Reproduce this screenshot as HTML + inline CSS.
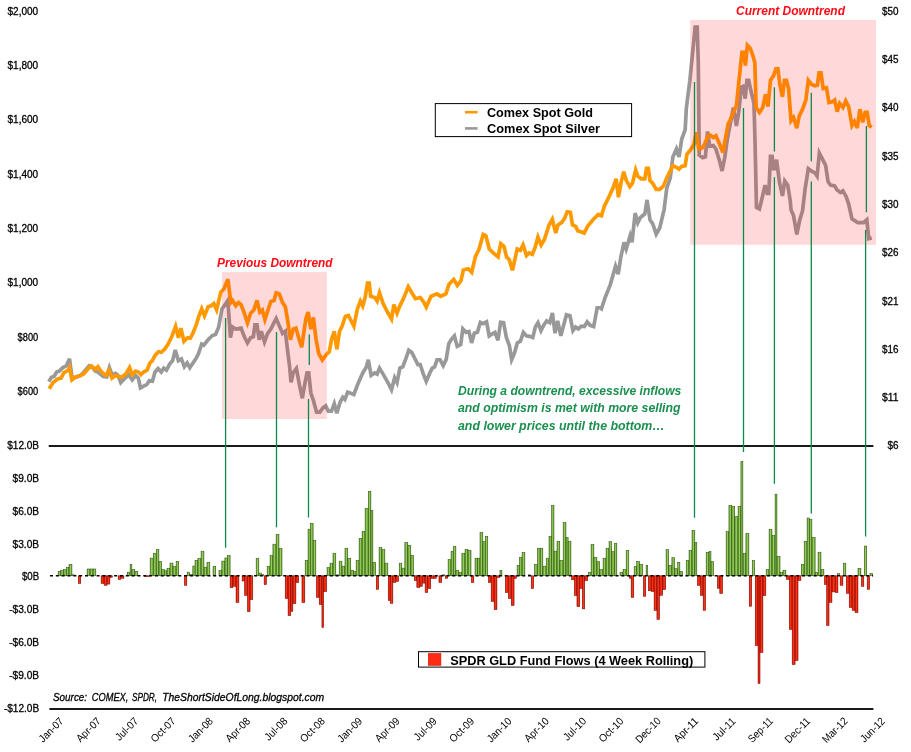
<!DOCTYPE html>
<html lang="en"><head><meta charset="utf-8"><title>Gold and Silver vs GLD Fund Flows</title>
<style>html,body{margin:0;padding:0;background:#fff}svg{display:block}</style></head>
<body><svg width="911" height="752" viewBox="0 0 911 752" font-family='"Liberation Sans", sans-serif'>
<defs>
<linearGradient id="gg" x1="0" x2="1" y1="0" y2="0"><stop offset="0" stop-color="#5b8f2c"/><stop offset="0.5" stop-color="#95cf5a"/><stop offset="1" stop-color="#5b8f2c"/></linearGradient>
<linearGradient id="rg" x1="0" x2="1" y1="0" y2="0"><stop offset="0" stop-color="#c71505"/><stop offset="0.5" stop-color="#ff3518"/><stop offset="1" stop-color="#c71505"/></linearGradient>
</defs>
<rect width="911" height="752" fill="#fff"/>
<polyline points="48.78,381.67 51.42,377.28 54.05,376.4 56.68,372.01 59.32,371.13 62.83,367.62 66.34,365.86 69.51,358.84 71.96,377.28 75.13,377.28 80.4,375.52 83.91,372.01 89.18,365.86 92.69,367.62 95.32,371.13 97.96,372.01 103.23,376.4 106.74,376.93 109.37,367.62 112.01,374.64 115.52,373.41 118.16,375.52 120.79,382.55 124.3,379.03 128.69,374.64 132.21,379.91 135.72,375.52 138.35,378.16 140.46,387.82 143.62,386.06 146.78,384.65 149.24,380.79 152.4,381.14 155.04,372.01 158.02,368.5 161.19,372.01 163.82,368.14 166.45,370.25 169.62,364.11 172.6,360.59 175.24,350.05 178.4,360.59 181.38,358.84 184.37,366.74 187.18,362.88 189.81,367.62 192.8,363.23 196.31,357.96 198.51,353.62 201.7,344.04 203.83,345.11 208.09,339.79 212.34,335.53 215.53,334.47 218.72,327.02 221.91,308.94 225.11,304.68 227.87,300.43 230.43,337.66 232.55,327.02 235.74,329.15 241.06,328.09 244.26,336.6 247.45,342.98 250.64,337.66 253.4,336.6 254.89,324.89 257.02,324.89 259.15,339.79 261.28,331.28 264.47,341.91 267.66,333.4 270.85,329.15 273.4,323.83 276.17,318.51 279.36,325.96 282.55,333.4 285.32,331.28 287.45,349.36 289.57,366.38 291.06,382.34 293.19,372.77 296.38,368.51 299.57,385.53 302.34,398.3 304.89,383.4 307.02,372.77 308.72,372.77 310.85,392.98 313.4,400.43 316.6,412.13 319.79,412.13 322.98,407.87 325.74,405.74 328.3,411.06 331.49,411.06 334.26,403.62 336.81,413.19 340.0,402.55 342.77,397.23 344.89,399.36 347.66,392.1 353.89,394.49 357.96,383.71 362.75,372.93 366.35,366.95 368.26,359.76 371.14,375.33 374.73,372.93 377.13,374.13 379.52,368.14 383.11,374.13 387.9,382.51 391.5,389.7 394.61,377.72 397.01,382.51 399.88,368.14 402.75,366.95 405.87,358.56 408.74,350.18 411.86,352.57 415.45,359.76 417.84,364.55 420.24,364.55 423.35,374.13 426.23,381.32 429.82,372.93 432.22,368.14 434.61,366.95 437.01,359.76 440.12,359.76 443.16,365.72 446.15,359.57 448.78,343.77 451.42,339.37 454.4,335.86 457.21,346.4 460.72,344.64 462.83,328.84 465.99,332.35 468.98,331.47 471.61,342.89 474.25,333.23 477.41,332.35 480.4,322.34 483.03,323.57 486.54,321.81 489.18,335.86 491.81,334.11 494.97,332.35 497.96,340.25 500.59,322.34 503.58,322.69 506.39,337.62 509.37,345.52 511.66,359.57 514.64,352.55 517.28,342.89 520.44,341.13 523.42,332.35 526.41,335.86 529.57,336.39 532.73,337.62 535.37,327.08 538.0,322.69 540.99,330.59 543.62,325.32 546.61,320.93 549.77,322.69 552.4,313.03 555.04,333.23 557.67,320.93 560.83,335.86 563.82,324.45 566.45,314.79 569.97,315.66 572.95,330.59 575.59,327.08 578.4,328.84 581.38,326.2 584.37,326.55 587.18,321.81 590.16,325.32 593.68,326.55 597.19,307.76 600.0,307.76 601.46,308.77 604.92,298.14 610.23,284.85 615.55,266.25 618.21,274.22 620.86,256.94 624.05,242.33 626.18,248.97 630.17,235.68 632.03,242.33 635.13,213.08 637.76,222.74 640.4,217.48 644.79,213.96 647.07,199.91 650.05,220.11 652.69,223.62 656.2,234.16 659.71,228.01 664.11,209.57 666.74,188.5 670.25,177.96 672.89,156.88 676.4,148.98 679.03,156.88 681.67,139.32 685.18,129.66 686.34,108.35 689.86,80.25 693.37,45.13 695.13,27.04 697.23,27.04 698.29,62.69 699.23,155.13 702.74,157.76 705.38,156.88 707.49,131.42 709.77,146.34 713.28,145.47 715.92,148.98 719.43,160.4 722.06,170.93 724.7,157.76 727.33,139.32 729.97,125.27 733.41,107.48 736.4,125.92 739.03,110.11 741.14,87.28 742.9,86.4 745.18,98.69 746.94,80.25 748.69,80.25 751.33,92.55 753.96,103.08 755.15,146.47 756.47,207.39 759.43,209.03 762.23,197.51 765.03,185.16 767.17,193.39 768.81,193.39 770.46,156.34 772.11,156.34 773.75,170.34 776.55,159.64 779.52,182.69 782.48,195.86 784.79,181.04 787.75,185.16 790.22,200.8 791.04,209.86 793.51,215.62 796.81,234.39 799.6,220.56 802.57,210.68 805.04,189.28 808.33,168.69 811.62,171.16 814.92,172.81 817.06,176.1 819.36,153.05 822.33,158.81 825.62,165.4 828.09,181.87 830.56,185.16 834.68,185.98 837.15,190.1 840.44,192.57 842.91,190.92 846.2,196.68 848.67,204.09 851.96,218.91 857.73,222.54 863.49,222.54 866.78,219.74 868.76,238.67 871.72,237.85" fill="none" stroke="#999999" stroke-width="3.7" stroke-linejoin="miter" stroke-miterlimit="3.6" stroke-linecap="butt"/>
<polyline points="49.13,388.69 53.17,382.55 57.56,379.03 61.08,378.16 63.71,372.89 68.1,370.25 69.51,367.62 71.96,379.91 75.13,377.28 80.4,375.52 83.91,373.77 88.3,368.5 91.46,365.86 95.32,369.37 97.96,366.74 101.47,372.01 105.86,375.52 109.02,370.25 112.01,378.16 115.52,375.52 118.16,376.4 121.67,377.28 126.06,373.77 129.57,367.62 132.21,374.64 135.72,371.13 138.35,372.01 140.99,374.64 143.62,372.01 147.14,370.25 149.77,363.23 152.4,360.59 155.04,355.32 158.55,351.81 161.19,352.34 164.7,349.18 168.21,343.91 171.72,336.88 175.59,326.34 178.4,337.76 180.86,328.1 184.02,341.27 187.53,337.76 190.16,338.29 192.8,333.37 196.31,324.59 198.51,317.45 201.7,308.94 204.47,315.74 208.09,306.81 211.28,305.74 213.83,303.62 216.6,310.0 220.85,291.91 224.04,288.72 227.87,279.15 230.85,302.55 232.55,300.43 235.74,305.74 238.51,302.55 241.06,304.68 244.26,313.19 247.45,322.77 250.64,313.19 253.83,310.0 257.02,300.43 259.79,312.13 262.34,310.0 264.89,319.57 267.66,311.06 270.85,301.49 274.04,300.43 276.17,292.98 279.36,294.04 282.55,302.55 285.32,306.81 287.87,321.7 290.43,339.79 293.19,329.15 295.96,328.09 298.94,338.72 301.7,347.23 303.83,332.34 305.96,318.51 308.09,312.13 310.85,329.15 313.4,317.45 315.96,338.72 318.72,353.62 322.34,360.0 326.17,354.68 329.36,351.49 331.49,339.79 334.26,331.28 336.81,349.36 339.57,331.28 342.13,325.96 345.32,316.38 348.38,315.45 353.89,326.23 357.25,309.46 360.36,301.08 362.75,305.87 365.15,297.49 367.54,283.11 369.22,283.11 370.66,296.29 374.73,297.49 377.13,301.08 379.52,292.69 383.11,303.47 386.71,310.66 391.5,319.04 393.89,304.67 397.01,313.05 399.88,305.87 403.47,298.68 408.26,286.71 411.86,292.69 415.45,298.68 420.24,297.49 423.83,302.28 426.23,307.07 431.02,296.29 437.01,293.89 440.6,296.29 445.87,293.89 448.98,284.31 453.77,279.52 457.37,285.51 460.96,280.72 463.35,269.94 468.14,268.74 471.74,272.34 475.33,256.77 478.92,249.58 483.19,234.35 485.85,235.68 489.3,248.97 493.29,252.96 498.07,256.94 500.73,243.65 503.92,246.31 506.58,256.94 509.24,259.6 512.43,270.23 517.21,248.97 520.4,250.3 523.06,244.98 526.51,255.61 529.17,252.96 532.36,254.29 535.02,247.64 537.94,237.01 541.13,244.98 544.32,239.67 549.1,225.05 552.29,219.2 555.75,233.02 557.87,225.05 561.86,222.39 564.52,218.41 567.18,211.76 570.37,212.29 572.49,225.05 575.68,226.38 577.81,230.9 581.0,231.69 584.19,233.02 587.64,226.38 592.96,219.73 598.27,214.42 601.46,215.75 604.39,206.06 608.78,197.28 613.17,187.62 616.16,178.84 618.44,197.28 621.08,182.35 623.71,171.81 626.34,180.59 629.86,186.74 632.49,183.23 635.65,170.05 637.76,176.2 641.27,178.84 644.79,178.84 646.54,168.3 648.3,168.3 650.05,180.59 652.69,183.23 656.2,189.37 659.71,189.37 663.58,185.86 666.74,177.96 670.25,170.93 672.89,165.66 676.4,167.42 679.03,169.18 681.67,166.54 685.18,165.66 686.94,154.25 690.45,149.86 693.96,144.59 696.25,132.29 698.7,148.98 701.87,148.1 704.5,144.59 708.01,135.81 709.77,134.93 713.28,137.56 715.92,135.81 719.43,143.71 722.94,152.49 725.58,137.56 728.21,123.51 730.25,119.77 733.77,111.87 736.4,105.72 739.03,80.25 741.98,52.35 743.62,52.35 745.43,65.52 747.41,45.27 750.21,48.23 753.17,56.47 754.82,63.05 756.14,107.51 759.43,112.45 762.72,107.51 765.52,94.34 767.99,106.68 770.46,80.34 773.75,75.4 775.89,68.81 777.87,68.81 779.85,84.46 782.48,96.81 784.46,80.34 786.43,80.34 788.57,88.57 791.04,120.68 793.51,117.39 796.81,128.09 799.28,115.74 802.57,109.15 805.86,100.1 808.33,80.34 811.62,84.46 814.92,85.77 817.39,85.28 819.03,72.93 821.01,72.93 823.15,88.57 826.44,87.75 828.91,102.57 832.21,101.75 834.68,100.1 837.15,111.62 839.62,103.39 842.91,107.51 845.71,100.92 848.67,106.68 851.96,125.62 854.43,121.5 857.23,128.09 859.87,109.15 862.67,122.33 865.14,112.45 867.11,112.45 869.25,125.62 871.72,127.27" fill="none" stroke="#ff9900" stroke-width="3.7" stroke-linejoin="miter" stroke-miterlimit="3.6" stroke-linecap="butt"/>
<rect x="222" y="272.1" width="104.8" height="146.9" fill="rgba(255,0,0,0.15)"/>
<rect x="690.2" y="20" width="185.8" height="224.8" fill="rgba(255,0,0,0.15)"/>
<rect x="58.09" y="571.27" width="2.63" height="4.53" fill="url(#gg)" stroke="#2f5210" stroke-width="0.5"/>
<rect x="60.72" y="570.40" width="2.99" height="5.40" fill="url(#gg)" stroke="#2f5210" stroke-width="0.5"/>
<rect x="63.71" y="569.52" width="2.63" height="6.28" fill="url(#gg)" stroke="#2f5210" stroke-width="0.5"/>
<rect x="66.34" y="567.23" width="2.64" height="8.57" fill="url(#gg)" stroke="#2f5210" stroke-width="0.5"/>
<rect x="68.98" y="564.25" width="2.98" height="11.55" fill="url(#gg)" stroke="#2f5210" stroke-width="0.5"/>
<rect x="71.96" y="574.79" width="2.29" height="1.01" fill="url(#gg)" stroke="#2f5210" stroke-width="0.5"/>
<rect x="78.29" y="575.80" width="2.46" height="7.77" fill="url(#rg)" stroke="#7a0a00" stroke-width="0.5"/>
<rect x="87.07" y="568.99" width="2.98" height="6.81" fill="url(#gg)" stroke="#2f5210" stroke-width="0.5"/>
<rect x="90.05" y="568.99" width="2.99" height="6.81" fill="url(#gg)" stroke="#2f5210" stroke-width="0.5"/>
<rect x="93.04" y="568.99" width="2.81" height="6.81" fill="url(#gg)" stroke="#2f5210" stroke-width="0.5"/>
<rect x="101.12" y="575.80" width="2.99" height="7.77" fill="url(#rg)" stroke="#7a0a00" stroke-width="0.5"/>
<rect x="104.11" y="575.80" width="2.98" height="9.52" fill="url(#rg)" stroke="#7a0a00" stroke-width="0.5"/>
<rect x="107.09" y="575.80" width="2.81" height="8.29" fill="url(#rg)" stroke="#7a0a00" stroke-width="0.5"/>
<rect x="109.90" y="575.80" width="2.46" height="1.62" fill="url(#rg)" stroke="#7a0a00" stroke-width="0.5"/>
<rect x="118.16" y="575.80" width="2.63" height="3.73" fill="url(#rg)" stroke="#7a0a00" stroke-width="0.5"/>
<rect x="121.14" y="575.80" width="2.81" height="2.50" fill="url(#rg)" stroke="#7a0a00" stroke-width="0.5"/>
<rect x="127.29" y="572.15" width="2.81" height="3.65" fill="url(#gg)" stroke="#2f5210" stroke-width="0.5"/>
<rect x="130.10" y="564.25" width="1.76" height="11.55" fill="url(#gg)" stroke="#2f5210" stroke-width="0.5"/>
<rect x="131.86" y="569.52" width="2.98" height="6.28" fill="url(#gg)" stroke="#2f5210" stroke-width="0.5"/>
<rect x="134.84" y="571.27" width="2.99" height="4.53" fill="url(#gg)" stroke="#2f5210" stroke-width="0.5"/>
<rect x="144.50" y="575.80" width="2.64" height="0.92" fill="url(#rg)" stroke="#7a0a00" stroke-width="0.5"/>
<rect x="147.14" y="575.80" width="2.63" height="0.74" fill="url(#rg)" stroke="#7a0a00" stroke-width="0.5"/>
<rect x="150.12" y="558.10" width="3.16" height="17.70" fill="url(#gg)" stroke="#2f5210" stroke-width="0.5"/>
<rect x="153.28" y="553.18" width="2.99" height="22.62" fill="url(#gg)" stroke="#2f5210" stroke-width="0.5"/>
<rect x="156.27" y="549.32" width="2.63" height="26.48" fill="url(#gg)" stroke="#2f5210" stroke-width="0.5"/>
<rect x="158.90" y="561.26" width="2.81" height="14.54" fill="url(#gg)" stroke="#2f5210" stroke-width="0.5"/>
<rect x="161.71" y="569.52" width="2.64" height="6.28" fill="url(#gg)" stroke="#2f5210" stroke-width="0.5"/>
<rect x="164.35" y="570.75" width="2.63" height="5.05" fill="url(#gg)" stroke="#2f5210" stroke-width="0.5"/>
<rect x="166.98" y="568.29" width="2.99" height="7.51" fill="url(#gg)" stroke="#2f5210" stroke-width="0.5"/>
<rect x="169.97" y="563.02" width="2.98" height="12.78" fill="url(#gg)" stroke="#2f5210" stroke-width="0.5"/>
<rect x="172.95" y="566.36" width="3.16" height="9.44" fill="url(#gg)" stroke="#2f5210" stroke-width="0.5"/>
<rect x="176.11" y="561.26" width="2.64" height="14.54" fill="url(#gg)" stroke="#2f5210" stroke-width="0.5"/>
<rect x="184.37" y="575.80" width="2.46" height="9.52" fill="url(#rg)" stroke="#7a0a00" stroke-width="0.5"/>
<rect x="187.18" y="572.15" width="2.46" height="3.65" fill="url(#gg)" stroke="#2f5210" stroke-width="0.5"/>
<rect x="189.64" y="574.26" width="3.16" height="1.54" fill="url(#gg)" stroke="#2f5210" stroke-width="0.5"/>
<rect x="192.80" y="566.00" width="2.63" height="9.80" fill="url(#gg)" stroke="#2f5210" stroke-width="0.5"/>
<rect x="195.00" y="560.29" width="2.87" height="15.51" fill="url(#gg)" stroke="#2f5210" stroke-width="0.5"/>
<rect x="197.87" y="558.21" width="3.20" height="17.59" fill="url(#gg)" stroke="#2f5210" stroke-width="0.5"/>
<rect x="201.07" y="551.19" width="2.87" height="24.61" fill="url(#gg)" stroke="#2f5210" stroke-width="0.5"/>
<rect x="203.94" y="567.15" width="3.03" height="8.65" fill="url(#gg)" stroke="#2f5210" stroke-width="0.5"/>
<rect x="206.97" y="562.20" width="2.88" height="13.60" fill="url(#gg)" stroke="#2f5210" stroke-width="0.5"/>
<rect x="213.04" y="566.19" width="2.71" height="9.61" fill="url(#gg)" stroke="#2f5210" stroke-width="0.5"/>
<rect x="218.95" y="570.34" width="2.87" height="5.46" fill="url(#gg)" stroke="#2f5210" stroke-width="0.5"/>
<rect x="221.82" y="561.08" width="3.03" height="14.72" fill="url(#gg)" stroke="#2f5210" stroke-width="0.5"/>
<rect x="224.85" y="557.89" width="2.56" height="17.91" fill="url(#gg)" stroke="#2f5210" stroke-width="0.5"/>
<rect x="227.41" y="555.34" width="2.71" height="20.46" fill="url(#gg)" stroke="#2f5210" stroke-width="0.5"/>
<rect x="230.12" y="575.80" width="2.87" height="11.94" fill="url(#rg)" stroke="#7a0a00" stroke-width="0.5"/>
<rect x="232.99" y="575.80" width="3.04" height="10.51" fill="url(#rg)" stroke="#7a0a00" stroke-width="0.5"/>
<rect x="236.03" y="575.80" width="2.87" height="26.79" fill="url(#rg)" stroke="#7a0a00" stroke-width="0.5"/>
<rect x="242.09" y="575.80" width="2.40" height="5.24" fill="url(#rg)" stroke="#7a0a00" stroke-width="0.5"/>
<rect x="244.49" y="575.80" width="2.87" height="19.60" fill="url(#rg)" stroke="#7a0a00" stroke-width="0.5"/>
<rect x="247.36" y="575.80" width="2.71" height="35.89" fill="url(#rg)" stroke="#7a0a00" stroke-width="0.5"/>
<rect x="250.07" y="575.80" width="2.72" height="23.91" fill="url(#rg)" stroke="#7a0a00" stroke-width="0.5"/>
<rect x="256.14" y="558.21" width="2.71" height="17.59" fill="url(#gg)" stroke="#2f5210" stroke-width="0.5"/>
<rect x="258.85" y="573.06" width="2.40" height="2.74" fill="url(#gg)" stroke="#2f5210" stroke-width="0.5"/>
<rect x="261.25" y="574.33" width="2.39" height="1.47" fill="url(#gg)" stroke="#2f5210" stroke-width="0.5"/>
<rect x="264.12" y="575.80" width="2.40" height="8.91" fill="url(#rg)" stroke="#7a0a00" stroke-width="0.5"/>
<rect x="267.16" y="566.19" width="2.87" height="9.61" fill="url(#gg)" stroke="#2f5210" stroke-width="0.5"/>
<rect x="270.03" y="555.34" width="2.87" height="20.46" fill="url(#gg)" stroke="#2f5210" stroke-width="0.5"/>
<rect x="272.90" y="544.16" width="3.19" height="31.64" fill="url(#gg)" stroke="#2f5210" stroke-width="0.5"/>
<rect x="276.09" y="534.26" width="2.88" height="41.54" fill="url(#gg)" stroke="#2f5210" stroke-width="0.5"/>
<rect x="278.97" y="548.31" width="3.03" height="27.49" fill="url(#gg)" stroke="#2f5210" stroke-width="0.5"/>
<rect x="285.19" y="575.80" width="2.88" height="22.80" fill="url(#rg)" stroke="#7a0a00" stroke-width="0.5"/>
<rect x="288.07" y="575.80" width="2.71" height="39.88" fill="url(#rg)" stroke="#7a0a00" stroke-width="0.5"/>
<rect x="290.78" y="575.80" width="2.08" height="35.57" fill="url(#rg)" stroke="#7a0a00" stroke-width="0.5"/>
<rect x="292.86" y="575.80" width="3.03" height="27.91" fill="url(#rg)" stroke="#7a0a00" stroke-width="0.5"/>
<rect x="295.89" y="575.80" width="2.87" height="6.83" fill="url(#rg)" stroke="#7a0a00" stroke-width="0.5"/>
<rect x="301.96" y="575.80" width="2.87" height="26.79" fill="url(#rg)" stroke="#7a0a00" stroke-width="0.5"/>
<rect x="305.15" y="560.29" width="2.87" height="15.51" fill="url(#gg)" stroke="#2f5210" stroke-width="0.5"/>
<rect x="308.02" y="529.16" width="2.24" height="46.64" fill="url(#gg)" stroke="#2f5210" stroke-width="0.5"/>
<rect x="310.26" y="523.25" width="2.87" height="52.55" fill="url(#gg)" stroke="#2f5210" stroke-width="0.5"/>
<rect x="313.13" y="540.33" width="2.71" height="35.47" fill="url(#gg)" stroke="#2f5210" stroke-width="0.5"/>
<rect x="316.32" y="575.80" width="2.88" height="21.68" fill="url(#rg)" stroke="#7a0a00" stroke-width="0.5"/>
<rect x="319.20" y="575.80" width="2.71" height="28.86" fill="url(#rg)" stroke="#7a0a00" stroke-width="0.5"/>
<rect x="321.91" y="575.80" width="1.76" height="51.85" fill="url(#rg)" stroke="#7a0a00" stroke-width="0.5"/>
<rect x="323.67" y="575.80" width="3.03" height="15.93" fill="url(#rg)" stroke="#7a0a00" stroke-width="0.5"/>
<rect x="327.02" y="567.47" width="2.87" height="8.33" fill="url(#gg)" stroke="#2f5210" stroke-width="0.5"/>
<rect x="330.00" y="563.16" width="2.99" height="12.64" fill="url(#gg)" stroke="#2f5210" stroke-width="0.5"/>
<rect x="332.99" y="553.18" width="2.83" height="22.62" fill="url(#gg)" stroke="#2f5210" stroke-width="0.5"/>
<rect x="335.82" y="574.80" width="2.49" height="1.00" fill="url(#gg)" stroke="#2f5210" stroke-width="0.5"/>
<rect x="339.15" y="561.16" width="2.82" height="14.64" fill="url(#gg)" stroke="#2f5210" stroke-width="0.5"/>
<rect x="341.97" y="566.15" width="3.00" height="9.65" fill="url(#gg)" stroke="#2f5210" stroke-width="0.5"/>
<rect x="344.97" y="548.19" width="2.82" height="27.61" fill="url(#gg)" stroke="#2f5210" stroke-width="0.5"/>
<rect x="347.79" y="558.17" width="3.00" height="17.63" fill="url(#gg)" stroke="#2f5210" stroke-width="0.5"/>
<rect x="350.79" y="570.14" width="2.82" height="5.66" fill="url(#gg)" stroke="#2f5210" stroke-width="0.5"/>
<rect x="353.61" y="571.47" width="2.50" height="4.33" fill="url(#gg)" stroke="#2f5210" stroke-width="0.5"/>
<rect x="356.11" y="560.33" width="2.99" height="15.47" fill="url(#gg)" stroke="#2f5210" stroke-width="0.5"/>
<rect x="359.10" y="538.22" width="3.00" height="37.58" fill="url(#gg)" stroke="#2f5210" stroke-width="0.5"/>
<rect x="362.10" y="531.23" width="2.99" height="44.57" fill="url(#gg)" stroke="#2f5210" stroke-width="0.5"/>
<rect x="365.09" y="508.28" width="3.16" height="67.52" fill="url(#gg)" stroke="#2f5210" stroke-width="0.5"/>
<rect x="368.25" y="491.32" width="2.66" height="84.48" fill="url(#gg)" stroke="#2f5210" stroke-width="0.5"/>
<rect x="370.91" y="510.28" width="1.99" height="65.52" fill="url(#gg)" stroke="#2f5210" stroke-width="0.5"/>
<rect x="372.90" y="562.33" width="2.83" height="13.47" fill="url(#gg)" stroke="#2f5210" stroke-width="0.5"/>
<rect x="376.23" y="575.80" width="2.50" height="13.63" fill="url(#rg)" stroke="#7a0a00" stroke-width="0.5"/>
<rect x="379.06" y="547.36" width="2.82" height="28.44" fill="url(#gg)" stroke="#2f5210" stroke-width="0.5"/>
<rect x="381.88" y="549.52" width="3.00" height="26.28" fill="url(#gg)" stroke="#2f5210" stroke-width="0.5"/>
<rect x="384.88" y="563.16" width="2.99" height="12.64" fill="url(#gg)" stroke="#2f5210" stroke-width="0.5"/>
<rect x="388.20" y="575.80" width="2.00" height="24.78" fill="url(#rg)" stroke="#7a0a00" stroke-width="0.5"/>
<rect x="390.20" y="575.80" width="2.66" height="27.60" fill="url(#rg)" stroke="#7a0a00" stroke-width="0.5"/>
<rect x="392.86" y="575.80" width="2.99" height="6.82" fill="url(#rg)" stroke="#7a0a00" stroke-width="0.5"/>
<rect x="395.85" y="575.80" width="2.83" height="5.65" fill="url(#rg)" stroke="#7a0a00" stroke-width="0.5"/>
<rect x="399.18" y="563.16" width="2.66" height="12.64" fill="url(#gg)" stroke="#2f5210" stroke-width="0.5"/>
<rect x="401.84" y="568.15" width="2.99" height="7.65" fill="url(#gg)" stroke="#2f5210" stroke-width="0.5"/>
<rect x="404.83" y="542.37" width="3.00" height="33.43" fill="url(#gg)" stroke="#2f5210" stroke-width="0.5"/>
<rect x="407.83" y="545.20" width="2.99" height="30.60" fill="url(#gg)" stroke="#2f5210" stroke-width="0.5"/>
<rect x="410.82" y="555.18" width="2.83" height="20.62" fill="url(#gg)" stroke="#2f5210" stroke-width="0.5"/>
<rect x="414.31" y="575.80" width="2.50" height="4.82" fill="url(#rg)" stroke="#7a0a00" stroke-width="0.5"/>
<rect x="416.81" y="575.80" width="2.99" height="11.81" fill="url(#rg)" stroke="#7a0a00" stroke-width="0.5"/>
<rect x="419.80" y="575.80" width="2.49" height="10.64" fill="url(#rg)" stroke="#7a0a00" stroke-width="0.5"/>
<rect x="422.29" y="575.80" width="2.83" height="7.32" fill="url(#rg)" stroke="#7a0a00" stroke-width="0.5"/>
<rect x="425.12" y="575.80" width="2.66" height="16.79" fill="url(#rg)" stroke="#7a0a00" stroke-width="0.5"/>
<rect x="427.78" y="575.80" width="3.00" height="12.80" fill="url(#rg)" stroke="#7a0a00" stroke-width="0.5"/>
<rect x="430.78" y="575.80" width="2.82" height="2.66" fill="url(#rg)" stroke="#7a0a00" stroke-width="0.5"/>
<rect x="433.60" y="575.80" width="2.83" height="2.66" fill="url(#rg)" stroke="#7a0a00" stroke-width="0.5"/>
<rect x="438.92" y="575.80" width="2.83" height="6.82" fill="url(#rg)" stroke="#7a0a00" stroke-width="0.5"/>
<rect x="442.25" y="574.80" width="2.50" height="1.00" fill="url(#gg)" stroke="#2f5210" stroke-width="0.5"/>
<rect x="445.24" y="575.80" width="2.50" height="2.66" fill="url(#rg)" stroke="#7a0a00" stroke-width="0.5"/>
<rect x="448.07" y="559.33" width="2.99" height="16.47" fill="url(#gg)" stroke="#2f5210" stroke-width="0.5"/>
<rect x="451.06" y="551.19" width="2.33" height="24.61" fill="url(#gg)" stroke="#2f5210" stroke-width="0.5"/>
<rect x="453.39" y="546.20" width="2.50" height="29.60" fill="url(#gg)" stroke="#2f5210" stroke-width="0.5"/>
<rect x="455.89" y="570.31" width="2.99" height="5.49" fill="url(#gg)" stroke="#2f5210" stroke-width="0.5"/>
<rect x="458.88" y="572.31" width="2.99" height="3.49" fill="url(#gg)" stroke="#2f5210" stroke-width="0.5"/>
<rect x="461.87" y="553.18" width="3.16" height="22.62" fill="url(#gg)" stroke="#2f5210" stroke-width="0.5"/>
<rect x="465.03" y="549.36" width="3.00" height="26.44" fill="url(#gg)" stroke="#2f5210" stroke-width="0.5"/>
<rect x="468.03" y="550.35" width="2.99" height="25.45" fill="url(#gg)" stroke="#2f5210" stroke-width="0.5"/>
<rect x="471.35" y="575.80" width="2.50" height="6.82" fill="url(#rg)" stroke="#7a0a00" stroke-width="0.5"/>
<rect x="475.00" y="558.17" width="2.49" height="17.63" fill="url(#gg)" stroke="#2f5210" stroke-width="0.5"/>
<rect x="477.49" y="558.17" width="2.50" height="17.63" fill="url(#gg)" stroke="#2f5210" stroke-width="0.5"/>
<rect x="479.99" y="532.39" width="2.83" height="43.41" fill="url(#gg)" stroke="#2f5210" stroke-width="0.5"/>
<rect x="482.82" y="541.54" width="2.49" height="34.26" fill="url(#gg)" stroke="#2f5210" stroke-width="0.5"/>
<rect x="485.31" y="536.22" width="2.49" height="39.58" fill="url(#gg)" stroke="#2f5210" stroke-width="0.5"/>
<rect x="488.30" y="575.80" width="2.83" height="6.82" fill="url(#rg)" stroke="#7a0a00" stroke-width="0.5"/>
<rect x="491.13" y="575.80" width="2.99" height="25.61" fill="url(#rg)" stroke="#7a0a00" stroke-width="0.5"/>
<rect x="494.12" y="575.80" width="2.83" height="33.92" fill="url(#rg)" stroke="#7a0a00" stroke-width="0.5"/>
<rect x="496.95" y="575.80" width="2.99" height="1.66" fill="url(#rg)" stroke="#7a0a00" stroke-width="0.5"/>
<rect x="499.94" y="570.31" width="2.00" height="5.49" fill="url(#gg)" stroke="#2f5210" stroke-width="0.5"/>
<rect x="505.27" y="575.80" width="2.99" height="16.79" fill="url(#rg)" stroke="#7a0a00" stroke-width="0.5"/>
<rect x="508.26" y="575.80" width="2.99" height="22.78" fill="url(#rg)" stroke="#7a0a00" stroke-width="0.5"/>
<rect x="511.25" y="575.80" width="2.83" height="29.77" fill="url(#rg)" stroke="#7a0a00" stroke-width="0.5"/>
<rect x="514.08" y="575.80" width="2.49" height="2.66" fill="url(#rg)" stroke="#7a0a00" stroke-width="0.5"/>
<rect x="517.07" y="565.32" width="2.33" height="10.48" fill="url(#gg)" stroke="#2f5210" stroke-width="0.5"/>
<rect x="519.40" y="557.34" width="2.66" height="18.46" fill="url(#gg)" stroke="#2f5210" stroke-width="0.5"/>
<rect x="522.06" y="552.35" width="2.83" height="23.45" fill="url(#gg)" stroke="#2f5210" stroke-width="0.5"/>
<rect x="528.22" y="574.80" width="2.49" height="1.00" fill="url(#gg)" stroke="#2f5210" stroke-width="0.5"/>
<rect x="531.21" y="575.80" width="2.49" height="12.80" fill="url(#rg)" stroke="#7a0a00" stroke-width="0.5"/>
<rect x="534.37" y="564.32" width="2.99" height="11.48" fill="url(#gg)" stroke="#2f5210" stroke-width="0.5"/>
<rect x="537.36" y="548.19" width="2.83" height="27.61" fill="url(#gg)" stroke="#2f5210" stroke-width="0.5"/>
<rect x="540.19" y="548.19" width="2.66" height="27.61" fill="url(#gg)" stroke="#2f5210" stroke-width="0.5"/>
<rect x="542.85" y="566.15" width="3.33" height="9.65" fill="url(#gg)" stroke="#2f5210" stroke-width="0.5"/>
<rect x="546.18" y="558.17" width="2.82" height="17.63" fill="url(#gg)" stroke="#2f5210" stroke-width="0.5"/>
<rect x="549.00" y="536.22" width="2.50" height="39.58" fill="url(#gg)" stroke="#2f5210" stroke-width="0.5"/>
<rect x="551.50" y="505.29" width="2.49" height="70.51" fill="url(#gg)" stroke="#2f5210" stroke-width="0.5"/>
<rect x="553.99" y="551.19" width="2.99" height="24.61" fill="url(#gg)" stroke="#2f5210" stroke-width="0.5"/>
<rect x="556.98" y="541.21" width="2.83" height="34.59" fill="url(#gg)" stroke="#2f5210" stroke-width="0.5"/>
<rect x="559.81" y="560.33" width="3.33" height="15.47" fill="url(#gg)" stroke="#2f5210" stroke-width="0.5"/>
<rect x="563.14" y="522.42" width="2.82" height="53.38" fill="url(#gg)" stroke="#2f5210" stroke-width="0.5"/>
<rect x="565.96" y="537.38" width="2.17" height="38.42" fill="url(#gg)" stroke="#2f5210" stroke-width="0.5"/>
<rect x="568.13" y="541.21" width="2.82" height="34.59" fill="url(#gg)" stroke="#2f5210" stroke-width="0.5"/>
<rect x="571.45" y="575.80" width="2.83" height="3.99" fill="url(#rg)" stroke="#7a0a00" stroke-width="0.5"/>
<rect x="574.28" y="575.80" width="2.66" height="19.79" fill="url(#rg)" stroke="#7a0a00" stroke-width="0.5"/>
<rect x="576.94" y="575.80" width="2.83" height="30.93" fill="url(#rg)" stroke="#7a0a00" stroke-width="0.5"/>
<rect x="579.77" y="575.80" width="2.49" height="12.80" fill="url(#rg)" stroke="#7a0a00" stroke-width="0.5"/>
<rect x="582.26" y="575.80" width="2.50" height="33.09" fill="url(#rg)" stroke="#7a0a00" stroke-width="0.5"/>
<rect x="584.76" y="575.80" width="2.99" height="4.82" fill="url(#rg)" stroke="#7a0a00" stroke-width="0.5"/>
<rect x="588.41" y="572.31" width="2.67" height="3.49" fill="url(#gg)" stroke="#2f5210" stroke-width="0.5"/>
<rect x="591.08" y="544.37" width="2.82" height="31.43" fill="url(#gg)" stroke="#2f5210" stroke-width="0.5"/>
<rect x="593.90" y="557.34" width="3.00" height="18.46" fill="url(#gg)" stroke="#2f5210" stroke-width="0.5"/>
<rect x="596.90" y="561.50" width="2.82" height="14.30" fill="url(#gg)" stroke="#2f5210" stroke-width="0.5"/>
<rect x="599.72" y="569.48" width="3.33" height="6.32" fill="url(#gg)" stroke="#2f5210" stroke-width="0.5"/>
<rect x="603.05" y="558.17" width="2.99" height="17.63" fill="url(#gg)" stroke="#2f5210" stroke-width="0.5"/>
<rect x="606.04" y="548.19" width="3.00" height="27.61" fill="url(#gg)" stroke="#2f5210" stroke-width="0.5"/>
<rect x="609.04" y="541.54" width="2.66" height="34.26" fill="url(#gg)" stroke="#2f5210" stroke-width="0.5"/>
<rect x="611.70" y="551.52" width="2.66" height="24.28" fill="url(#gg)" stroke="#2f5210" stroke-width="0.5"/>
<rect x="614.36" y="543.20" width="2.49" height="32.60" fill="url(#gg)" stroke="#2f5210" stroke-width="0.5"/>
<rect x="620.00" y="572.24" width="2.99" height="3.56" fill="url(#gg)" stroke="#2f5210" stroke-width="0.5"/>
<rect x="622.99" y="569.41" width="3.16" height="6.39" fill="url(#gg)" stroke="#2f5210" stroke-width="0.5"/>
<rect x="626.15" y="550.29" width="2.66" height="25.51" fill="url(#gg)" stroke="#2f5210" stroke-width="0.5"/>
<rect x="634.14" y="566.42" width="2.49" height="9.38" fill="url(#gg)" stroke="#2f5210" stroke-width="0.5"/>
<rect x="636.63" y="561.43" width="2.99" height="14.37" fill="url(#gg)" stroke="#2f5210" stroke-width="0.5"/>
<rect x="639.62" y="564.42" width="3.16" height="11.38" fill="url(#gg)" stroke="#2f5210" stroke-width="0.5"/>
<rect x="646.11" y="565.25" width="1.66" height="10.55" fill="url(#gg)" stroke="#2f5210" stroke-width="0.5"/>
<rect x="666.06" y="549.46" width="2.67" height="26.34" fill="url(#gg)" stroke="#2f5210" stroke-width="0.5"/>
<rect x="668.73" y="565.25" width="3.15" height="10.55" fill="url(#gg)" stroke="#2f5210" stroke-width="0.5"/>
<rect x="671.88" y="557.61" width="2.67" height="18.19" fill="url(#gg)" stroke="#2f5210" stroke-width="0.5"/>
<rect x="674.55" y="568.58" width="3.16" height="7.22" fill="url(#gg)" stroke="#2f5210" stroke-width="0.5"/>
<rect x="677.71" y="562.26" width="2.16" height="13.54" fill="url(#gg)" stroke="#2f5210" stroke-width="0.5"/>
<rect x="679.87" y="571.41" width="2.82" height="4.39" fill="url(#gg)" stroke="#2f5210" stroke-width="0.5"/>
<rect x="686.19" y="560.27" width="2.82" height="15.53" fill="url(#gg)" stroke="#2f5210" stroke-width="0.5"/>
<rect x="689.01" y="550.29" width="3.00" height="25.51" fill="url(#gg)" stroke="#2f5210" stroke-width="0.5"/>
<rect x="692.01" y="530.33" width="2.82" height="45.47" fill="url(#gg)" stroke="#2f5210" stroke-width="0.5"/>
<rect x="694.83" y="542.31" width="2.00" height="33.49" fill="url(#gg)" stroke="#2f5210" stroke-width="0.5"/>
<rect x="706.14" y="552.28" width="2.83" height="23.52" fill="url(#gg)" stroke="#2f5210" stroke-width="0.5"/>
<rect x="708.97" y="551.45" width="1.99" height="24.35" fill="url(#gg)" stroke="#2f5210" stroke-width="0.5"/>
<rect x="710.96" y="561.43" width="2.67" height="14.37" fill="url(#gg)" stroke="#2f5210" stroke-width="0.5"/>
<rect x="726.10" y="531.50" width="2.82" height="44.30" fill="url(#gg)" stroke="#2f5210" stroke-width="0.5"/>
<rect x="728.92" y="505.22" width="2.83" height="70.58" fill="url(#gg)" stroke="#2f5210" stroke-width="0.5"/>
<rect x="731.75" y="506.22" width="3.00" height="69.58" fill="url(#gg)" stroke="#2f5210" stroke-width="0.5"/>
<rect x="734.75" y="516.53" width="3.32" height="59.27" fill="url(#gg)" stroke="#2f5210" stroke-width="0.5"/>
<rect x="738.07" y="506.22" width="2.83" height="69.58" fill="url(#gg)" stroke="#2f5210" stroke-width="0.5"/>
<rect x="740.90" y="461.32" width="1.99" height="114.48" fill="url(#gg)" stroke="#2f5210" stroke-width="0.5"/>
<rect x="743.06" y="553.45" width="2.83" height="22.35" fill="url(#gg)" stroke="#2f5210" stroke-width="0.5"/>
<rect x="745.89" y="533.49" width="2.99" height="42.31" fill="url(#gg)" stroke="#2f5210" stroke-width="0.5"/>
<rect x="752.21" y="560.27" width="2.49" height="15.53" fill="url(#gg)" stroke="#2f5210" stroke-width="0.5"/>
<rect x="629.15" y="575.80" width="1.99" height="2.51" fill="url(#rg)" stroke="#7a0a00" stroke-width="0.5"/>
<rect x="631.14" y="575.80" width="2.66" height="21.64" fill="url(#rg)" stroke="#7a0a00" stroke-width="0.5"/>
<rect x="643.28" y="575.80" width="2.50" height="20.47" fill="url(#rg)" stroke="#7a0a00" stroke-width="0.5"/>
<rect x="648.27" y="575.80" width="2.99" height="14.99" fill="url(#rg)" stroke="#7a0a00" stroke-width="0.5"/>
<rect x="651.26" y="575.80" width="2.83" height="15.82" fill="url(#rg)" stroke="#7a0a00" stroke-width="0.5"/>
<rect x="654.09" y="575.80" width="2.83" height="34.61" fill="url(#rg)" stroke="#7a0a00" stroke-width="0.5"/>
<rect x="656.92" y="575.80" width="2.66" height="43.76" fill="url(#rg)" stroke="#7a0a00" stroke-width="0.5"/>
<rect x="659.58" y="575.80" width="3.16" height="19.64" fill="url(#rg)" stroke="#7a0a00" stroke-width="0.5"/>
<rect x="662.74" y="575.80" width="2.99" height="13.82" fill="url(#rg)" stroke="#7a0a00" stroke-width="0.5"/>
<rect x="697.33" y="575.80" width="2.99" height="9.67" fill="url(#rg)" stroke="#7a0a00" stroke-width="0.5"/>
<rect x="700.32" y="575.80" width="2.83" height="19.64" fill="url(#rg)" stroke="#7a0a00" stroke-width="0.5"/>
<rect x="703.15" y="575.80" width="2.49" height="34.61" fill="url(#rg)" stroke="#7a0a00" stroke-width="0.5"/>
<rect x="717.28" y="575.80" width="2.50" height="12.49" fill="url(#rg)" stroke="#7a0a00" stroke-width="0.5"/>
<rect x="719.78" y="575.80" width="2.83" height="17.81" fill="url(#rg)" stroke="#7a0a00" stroke-width="0.5"/>
<rect x="749.21" y="575.80" width="2.50" height="30.45" fill="url(#rg)" stroke="#7a0a00" stroke-width="0.5"/>
<rect x="755.20" y="575.80" width="2.83" height="69.87" fill="url(#rg)" stroke="#7a0a00" stroke-width="0.5"/>
<rect x="758.03" y="575.80" width="1.99" height="107.78" fill="url(#rg)" stroke="#7a0a00" stroke-width="0.5"/>
<rect x="766.14" y="569.44" width="2.93" height="6.36" fill="url(#gg)" stroke="#2f5210" stroke-width="0.5"/>
<rect x="769.07" y="529.22" width="2.92" height="46.58" fill="url(#gg)" stroke="#2f5210" stroke-width="0.5"/>
<rect x="771.99" y="535.37" width="3.07" height="40.43" fill="url(#gg)" stroke="#2f5210" stroke-width="0.5"/>
<rect x="775.06" y="494.13" width="1.90" height="81.67" fill="url(#gg)" stroke="#2f5210" stroke-width="0.5"/>
<rect x="776.96" y="556.28" width="3.07" height="19.52" fill="url(#gg)" stroke="#2f5210" stroke-width="0.5"/>
<rect x="780.03" y="572.36" width="2.93" height="3.44" fill="url(#gg)" stroke="#2f5210" stroke-width="0.5"/>
<rect x="782.96" y="570.17" width="2.92" height="5.63" fill="url(#gg)" stroke="#2f5210" stroke-width="0.5"/>
<rect x="801.24" y="564.32" width="2.92" height="11.48" fill="url(#gg)" stroke="#2f5210" stroke-width="0.5"/>
<rect x="804.16" y="541.21" width="2.93" height="34.59" fill="url(#gg)" stroke="#2f5210" stroke-width="0.5"/>
<rect x="807.09" y="517.96" width="2.34" height="57.84" fill="url(#gg)" stroke="#2f5210" stroke-width="0.5"/>
<rect x="809.43" y="519.28" width="2.48" height="56.52" fill="url(#gg)" stroke="#2f5210" stroke-width="0.5"/>
<rect x="811.91" y="537.27" width="3.22" height="38.53" fill="url(#gg)" stroke="#2f5210" stroke-width="0.5"/>
<rect x="815.13" y="572.36" width="2.92" height="3.44" fill="url(#gg)" stroke="#2f5210" stroke-width="0.5"/>
<rect x="818.05" y="552.18" width="2.93" height="23.62" fill="url(#gg)" stroke="#2f5210" stroke-width="0.5"/>
<rect x="820.98" y="569.44" width="2.92" height="6.36" fill="url(#gg)" stroke="#2f5210" stroke-width="0.5"/>
<rect x="837.50" y="573.53" width="2.20" height="2.27" fill="url(#gg)" stroke="#2f5210" stroke-width="0.5"/>
<rect x="843.35" y="563.15" width="2.49" height="12.65" fill="url(#gg)" stroke="#2f5210" stroke-width="0.5"/>
<rect x="857.98" y="568.27" width="2.92" height="7.53" fill="url(#gg)" stroke="#2f5210" stroke-width="0.5"/>
<rect x="864.26" y="546.04" width="2.49" height="29.76" fill="url(#gg)" stroke="#2f5210" stroke-width="0.5"/>
<rect x="869.97" y="573.39" width="2.63" height="2.41" fill="url(#gg)" stroke="#2f5210" stroke-width="0.5"/>
<rect x="760.00" y="575.80" width="2.92" height="76.82" fill="url(#rg)" stroke="#7a0a00" stroke-width="0.5"/>
<rect x="762.92" y="575.80" width="2.93" height="19.79" fill="url(#rg)" stroke="#7a0a00" stroke-width="0.5"/>
<rect x="786.32" y="575.80" width="2.93" height="3.71" fill="url(#rg)" stroke="#7a0a00" stroke-width="0.5"/>
<rect x="789.25" y="575.80" width="2.92" height="53.72" fill="url(#rg)" stroke="#7a0a00" stroke-width="0.5"/>
<rect x="792.17" y="575.80" width="2.93" height="88.81" fill="url(#rg)" stroke="#7a0a00" stroke-width="0.5"/>
<rect x="795.10" y="575.80" width="2.92" height="84.86" fill="url(#rg)" stroke="#7a0a00" stroke-width="0.5"/>
<rect x="798.02" y="575.80" width="2.92" height="4.73" fill="url(#rg)" stroke="#7a0a00" stroke-width="0.5"/>
<rect x="824.34" y="575.80" width="2.20" height="8.82" fill="url(#rg)" stroke="#7a0a00" stroke-width="0.5"/>
<rect x="826.54" y="575.80" width="2.48" height="49.77" fill="url(#rg)" stroke="#7a0a00" stroke-width="0.5"/>
<rect x="829.02" y="575.80" width="2.93" height="26.66" fill="url(#rg)" stroke="#7a0a00" stroke-width="0.5"/>
<rect x="831.95" y="575.80" width="3.36" height="16.13" fill="url(#rg)" stroke="#7a0a00" stroke-width="0.5"/>
<rect x="835.31" y="575.80" width="2.63" height="16.87" fill="url(#rg)" stroke="#7a0a00" stroke-width="0.5"/>
<rect x="840.13" y="575.80" width="2.78" height="9.55" fill="url(#rg)" stroke="#7a0a00" stroke-width="0.5"/>
<rect x="846.28" y="575.80" width="2.92" height="17.60" fill="url(#rg)" stroke="#7a0a00" stroke-width="0.5"/>
<rect x="849.20" y="575.80" width="2.93" height="31.78" fill="url(#rg)" stroke="#7a0a00" stroke-width="0.5"/>
<rect x="852.13" y="575.80" width="2.92" height="34.71" fill="url(#rg)" stroke="#7a0a00" stroke-width="0.5"/>
<rect x="855.05" y="575.80" width="2.93" height="36.90" fill="url(#rg)" stroke="#7a0a00" stroke-width="0.5"/>
<rect x="861.34" y="575.80" width="2.48" height="10.58" fill="url(#rg)" stroke="#7a0a00" stroke-width="0.5"/>
<rect x="867.19" y="575.80" width="2.48" height="13.65" fill="url(#rg)" stroke="#7a0a00" stroke-width="0.5"/>
<line x1="50" y1="575.8" x2="873" y2="575.8" stroke="#000" stroke-width="1.6" stroke-dasharray="3 2.83"/>
<line x1="48.7" y1="445.9" x2="873.4" y2="445.9" stroke="#1a1a1a" stroke-width="2"/>
<line x1="49.4" y1="709" x2="873.4" y2="709" stroke="#1a1a1a" stroke-width="2"/>
<line x1="225.6" y1="318" x2="225.6" y2="547.7" stroke="#0a8a4a" stroke-width="1.3"/>
<line x1="276.5" y1="332" x2="276.5" y2="527.4" stroke="#0a8a4a" stroke-width="1.3"/>
<line x1="309.3" y1="334.5" x2="309.3" y2="365" stroke="#0a8a4a" stroke-width="1.3"/>
<line x1="308.5" y1="399" x2="308.5" y2="517.5" stroke="#0a8a4a" stroke-width="1.3"/>
<line x1="694.5" y1="82" x2="694.5" y2="517.7" stroke="#0a8a4a" stroke-width="1.3"/>
<line x1="743.5" y1="108" x2="743.5" y2="452" stroke="#0a8a4a" stroke-width="1.3"/>
<line x1="774.4" y1="87.3" x2="774.4" y2="151.5" stroke="#0a8a4a" stroke-width="1.3"/>
<line x1="774.4" y1="177.3" x2="774.4" y2="483.8" stroke="#0a8a4a" stroke-width="1.3"/>
<line x1="811.3" y1="92.8" x2="811.3" y2="161.3" stroke="#0a8a4a" stroke-width="1.3"/>
<line x1="811.3" y1="181.4" x2="811.3" y2="513.6" stroke="#0a8a4a" stroke-width="1.3"/>
<line x1="866.4" y1="126" x2="866.4" y2="212.3" stroke="#0a8a4a" stroke-width="1.3"/>
<line x1="865.6" y1="230" x2="865.6" y2="536.6" stroke="#0a8a4a" stroke-width="1.3"/>
<text x="7.5000000000000036" y="14.6" font-size="10.7" fill="#000" textLength="30.7" lengthAdjust="spacingAndGlyphs" stroke="#000" stroke-width="0.3">$2,000</text>
<text x="7.5000000000000036" y="68.9" font-size="10.7" fill="#000" textLength="30.7" lengthAdjust="spacingAndGlyphs" stroke="#000" stroke-width="0.3">$1,800</text>
<text x="7.5000000000000036" y="123.3" font-size="10.7" fill="#000" textLength="30.7" lengthAdjust="spacingAndGlyphs" stroke="#000" stroke-width="0.3">$1,600</text>
<text x="7.5000000000000036" y="177.6" font-size="10.7" fill="#000" textLength="30.7" lengthAdjust="spacingAndGlyphs" stroke="#000" stroke-width="0.3">$1,400</text>
<text x="7.5000000000000036" y="231.9" font-size="10.7" fill="#000" textLength="30.7" lengthAdjust="spacingAndGlyphs" stroke="#000" stroke-width="0.3">$1,200</text>
<text x="7.5000000000000036" y="286.2" font-size="10.7" fill="#000" textLength="30.7" lengthAdjust="spacingAndGlyphs" stroke="#000" stroke-width="0.3">$1,000</text>
<text x="17.6" y="340.6" font-size="10.7" fill="#000" textLength="20.6" lengthAdjust="spacingAndGlyphs" stroke="#000" stroke-width="0.3">$800</text>
<text x="17.6" y="394.9" font-size="10.7" fill="#000" textLength="20.6" lengthAdjust="spacingAndGlyphs" stroke="#000" stroke-width="0.3">$600</text>
<text x="7.2" y="448.8" font-size="10.7" fill="#000" textLength="31.9" lengthAdjust="spacingAndGlyphs" stroke="#000" stroke-width="0.3">$12.0B</text>
<text x="12.6" y="481.7" font-size="10.7" fill="#000" textLength="26.5" lengthAdjust="spacingAndGlyphs" stroke="#000" stroke-width="0.3">$9.0B</text>
<text x="12.6" y="514.6" font-size="10.7" fill="#000" textLength="26.5" lengthAdjust="spacingAndGlyphs" stroke="#000" stroke-width="0.3">$6.0B</text>
<text x="12.6" y="547.5" font-size="10.7" fill="#000" textLength="26.5" lengthAdjust="spacingAndGlyphs" stroke="#000" stroke-width="0.3">$3.0B</text>
<text x="21.9" y="580.4" font-size="10.7" fill="#000" textLength="17.2" lengthAdjust="spacingAndGlyphs" stroke="#000" stroke-width="0.3">$0B</text>
<text x="9.2" y="613.3" font-size="10.7" fill="#000" textLength="29.9" lengthAdjust="spacingAndGlyphs" stroke="#000" stroke-width="0.3">-$3.0B</text>
<text x="9.2" y="646.2" font-size="10.7" fill="#000" textLength="29.9" lengthAdjust="spacingAndGlyphs" stroke="#000" stroke-width="0.3">-$6.0B</text>
<text x="9.2" y="679.1" font-size="10.7" fill="#000" textLength="29.9" lengthAdjust="spacingAndGlyphs" stroke="#000" stroke-width="0.3">-$9.0B</text>
<text x="3.9" y="712.0" font-size="10.7" fill="#000" textLength="35.2" lengthAdjust="spacingAndGlyphs" stroke="#000" stroke-width="0.3">-$12.0B</text>
<text x="882.1" y="14.7" font-size="10.7" fill="#000" textLength="16.5" lengthAdjust="spacingAndGlyphs" stroke="#000" stroke-width="0.3">$50</text>
<text x="882.1" y="63.0" font-size="10.7" fill="#000" textLength="16.5" lengthAdjust="spacingAndGlyphs" stroke="#000" stroke-width="0.3">$45</text>
<text x="882.1" y="111.3" font-size="10.7" fill="#000" textLength="16.5" lengthAdjust="spacingAndGlyphs" stroke="#000" stroke-width="0.3">$40</text>
<text x="882.1" y="159.6" font-size="10.7" fill="#000" textLength="16.5" lengthAdjust="spacingAndGlyphs" stroke="#000" stroke-width="0.3">$35</text>
<text x="882.1" y="207.9" font-size="10.7" fill="#000" textLength="16.5" lengthAdjust="spacingAndGlyphs" stroke="#000" stroke-width="0.3">$30</text>
<text x="882.1" y="256.2" font-size="10.7" fill="#000" textLength="16.5" lengthAdjust="spacingAndGlyphs" stroke="#000" stroke-width="0.3">$26</text>
<text x="882.1" y="304.5" font-size="10.7" fill="#000" textLength="16.5" lengthAdjust="spacingAndGlyphs" stroke="#000" stroke-width="0.3">$21</text>
<text x="882.1" y="352.8" font-size="10.7" fill="#000" textLength="16.5" lengthAdjust="spacingAndGlyphs" stroke="#000" stroke-width="0.3">$16</text>
<text x="882.1" y="401.1" font-size="10.7" fill="#000" textLength="16.5" lengthAdjust="spacingAndGlyphs" stroke="#000" stroke-width="0.3">$11</text>
<text x="887.4" y="449.4" font-size="10.7" fill="#000" textLength="11.0" lengthAdjust="spacingAndGlyphs" stroke="#000" stroke-width="0.3">$6</text>
<text transform="translate(64.2,721.8) rotate(-45)" font-size="10.7" text-anchor="end" fill="#000" textLength="29.9" lengthAdjust="spacingAndGlyphs">Jan-07</text>
<text transform="translate(101.5,721.8) rotate(-45)" font-size="10.7" text-anchor="end" fill="#000" textLength="29.8" lengthAdjust="spacingAndGlyphs">Apr-07</text>
<text transform="translate(138.9,721.8) rotate(-45)" font-size="10.7" text-anchor="end" fill="#000" textLength="27.6" lengthAdjust="spacingAndGlyphs">Jul-07</text>
<text transform="translate(176.2,721.8) rotate(-45)" font-size="10.7" text-anchor="end" fill="#000" textLength="30.1" lengthAdjust="spacingAndGlyphs">Oct-07</text>
<text transform="translate(213.6,721.8) rotate(-45)" font-size="10.7" text-anchor="end" fill="#000" textLength="29.9" lengthAdjust="spacingAndGlyphs">Jan-08</text>
<text transform="translate(250.9,721.8) rotate(-45)" font-size="10.7" text-anchor="end" fill="#000" textLength="29.8" lengthAdjust="spacingAndGlyphs">Apr-08</text>
<text transform="translate(288.2,721.8) rotate(-45)" font-size="10.7" text-anchor="end" fill="#000" textLength="27.6" lengthAdjust="spacingAndGlyphs">Jul-08</text>
<text transform="translate(325.6,721.8) rotate(-45)" font-size="10.7" text-anchor="end" fill="#000" textLength="30.1" lengthAdjust="spacingAndGlyphs">Oct-08</text>
<text transform="translate(362.9,721.8) rotate(-45)" font-size="10.7" text-anchor="end" fill="#000" textLength="29.9" lengthAdjust="spacingAndGlyphs">Jan-09</text>
<text transform="translate(400.3,721.8) rotate(-45)" font-size="10.7" text-anchor="end" fill="#000" textLength="29.8" lengthAdjust="spacingAndGlyphs">Apr-09</text>
<text transform="translate(437.6,721.8) rotate(-45)" font-size="10.7" text-anchor="end" fill="#000" textLength="27.6" lengthAdjust="spacingAndGlyphs">Jul-09</text>
<text transform="translate(474.9,721.8) rotate(-45)" font-size="10.7" text-anchor="end" fill="#000" textLength="30.1" lengthAdjust="spacingAndGlyphs">Oct-09</text>
<text transform="translate(512.3,721.8) rotate(-45)" font-size="10.7" text-anchor="end" fill="#000" textLength="29.9" lengthAdjust="spacingAndGlyphs">Jan-10</text>
<text transform="translate(549.6,721.8) rotate(-45)" font-size="10.7" text-anchor="end" fill="#000" textLength="29.8" lengthAdjust="spacingAndGlyphs">Apr-10</text>
<text transform="translate(587.0,721.8) rotate(-45)" font-size="10.7" text-anchor="end" fill="#000" textLength="27.6" lengthAdjust="spacingAndGlyphs">Jul-10</text>
<text transform="translate(624.3,721.8) rotate(-45)" font-size="10.7" text-anchor="end" fill="#000" textLength="30.1" lengthAdjust="spacingAndGlyphs">Oct-10</text>
<text transform="translate(661.6,721.8) rotate(-45)" font-size="10.7" text-anchor="end" fill="#000" textLength="31.0" lengthAdjust="spacingAndGlyphs">Dec-10</text>
<text transform="translate(699.0,721.8) rotate(-45)" font-size="10.7" text-anchor="end" fill="#000" textLength="29.8" lengthAdjust="spacingAndGlyphs">Apr-11</text>
<text transform="translate(736.3,721.8) rotate(-45)" font-size="10.7" text-anchor="end" fill="#000" textLength="27.6" lengthAdjust="spacingAndGlyphs">Jul-11</text>
<text transform="translate(773.7,721.8) rotate(-45)" font-size="10.7" text-anchor="end" fill="#000" textLength="30.3" lengthAdjust="spacingAndGlyphs">Sep-11</text>
<text transform="translate(811.0,721.8) rotate(-45)" font-size="10.7" text-anchor="end" fill="#000" textLength="31.0" lengthAdjust="spacingAndGlyphs">Dec-11</text>
<text transform="translate(848.3,721.8) rotate(-45)" font-size="10.7" text-anchor="end" fill="#000" textLength="30.7" lengthAdjust="spacingAndGlyphs">Mar-12</text>
<text transform="translate(885.7,721.8) rotate(-45)" font-size="10.7" text-anchor="end" fill="#000" textLength="30.1" lengthAdjust="spacingAndGlyphs">Jun-12</text>
<text x="736" y="15.1" font-size="12" font-weight="bold" font-style="italic" fill="#ff0a14" textLength="109" lengthAdjust="spacingAndGlyphs">Current Downtrend</text>
<text x="217" y="266.5" font-size="12" font-weight="bold" font-style="italic" fill="#ff0a14" textLength="115.5" lengthAdjust="spacingAndGlyphs">Previous Downtrend</text>
<text x="458" y="394.7" font-size="12" font-weight="bold" font-style="italic" fill="#1a8f4f" textLength="223.3" lengthAdjust="spacingAndGlyphs">During a downtrend, excessive inflows</text>
<text x="458" y="412" font-size="12" font-weight="bold" font-style="italic" fill="#1a8f4f" textLength="222.5" lengthAdjust="spacingAndGlyphs">and optimism is met with more selling</text>
<text x="458" y="429.6" font-size="12" font-weight="bold" font-style="italic" fill="#1a8f4f" textLength="206.7" lengthAdjust="spacingAndGlyphs">and lower prices until the bottom…</text>
<text x="53" y="700.5" font-size="11" font-style="italic" fill="#000" textLength="34.1" lengthAdjust="spacingAndGlyphs" stroke="#000" stroke-width="0.3">Source:</text>
<text x="91.8" y="700.5" font-size="11" font-style="italic" fill="#000" textLength="36.6" lengthAdjust="spacingAndGlyphs" stroke="#000" stroke-width="0.3">COMEX,</text>
<text x="131.9" y="700.5" font-size="11" font-style="italic" fill="#000" textLength="25.2" lengthAdjust="spacingAndGlyphs" stroke="#000" stroke-width="0.3">SPDR,</text>
<text x="162.2" y="700.5" font-size="11" font-style="italic" fill="#000" textLength="162" lengthAdjust="spacingAndGlyphs" stroke="#000" stroke-width="0.3">TheShortSideOfLong.blogspot.com</text>
<rect x="435.3" y="103.6" width="196.3" height="33" fill="#fff" stroke="#000" stroke-width="1"/>
<line x1="465" y1="112.2" x2="477.6" y2="112.2" stroke="#ff9900" stroke-width="2.6"/>
<line x1="465" y1="128.4" x2="477.6" y2="128.4" stroke="#999" stroke-width="2.6"/>
<text x="487" y="116.6" font-size="13" font-weight="bold" fill="#000" textLength="106" lengthAdjust="spacingAndGlyphs">Comex Spot Gold</text>
<text x="487" y="132.5" font-size="13" font-weight="bold" fill="#000" textLength="113" lengthAdjust="spacingAndGlyphs">Comex Spot Silver</text>
<rect x="418.5" y="651.7" width="286.4" height="15.4" fill="#fff" stroke="#000" stroke-width="1"/>
<rect x="428.3" y="653.5" width="12.6" height="11.8" fill="#ff2a12" stroke="#c81400" stroke-width="0.6"/>
<text x="450.2" y="664.6" font-size="13.5" font-weight="bold" fill="#000" textLength="243" lengthAdjust="spacingAndGlyphs">SPDR GLD Fund Flows (4 Week Rolling)</text>
</svg></body></html>
